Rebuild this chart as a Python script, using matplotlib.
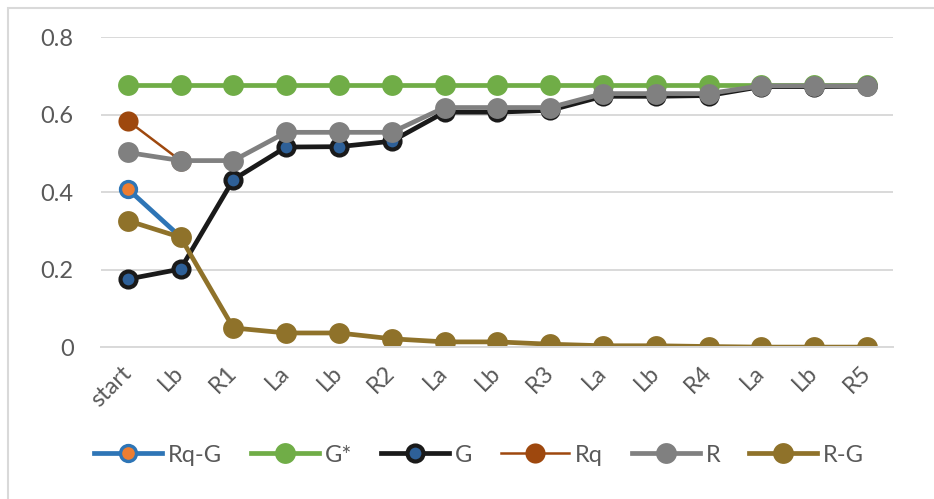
import matplotlib.pyplot as plt
from matplotlib.patches import Rectangle
import numpy as np

plt.rcParams['font.family'] = ['Lato', 'DejaVu Sans']

steps = ["start", "Lb", "R1", "La", "Lb", "R2", "La", "Lb", "R3",
         "La", "Lb", "R4", "La", "Lb", "R5"]

rq_g = [0.409, 0.285]
g_star = [0.676] * 15
g = [0.176, 0.202, 0.433, 0.517, 0.518, 0.532, 0.607, 0.607, 0.612,
     0.648, 0.648, 0.650, 0.673, 0.673, 0.674]
rq = [0.585, 0.482]
r = [0.503, 0.482, 0.482, 0.555, 0.555, 0.555, 0.619, 0.619, 0.619,
     0.655, 0.655, 0.655, 0.675, 0.675, 0.675]
r_g = [0.327, 0.284, 0.050, 0.037, 0.037, 0.022, 0.014, 0.014, 0.008,
       0.004, 0.004, 0.002, 0.0005, 0.0005, 0.0005]

x = np.arange(len(steps))

fig = plt.figure(figsize=(9.34, 4.99), dpi=100)
ax = fig.add_axes([0.1085, 0.304, 0.848, 0.621])

# light frame around the chart area (runs off the right and bottom edges)
fig.patches.append(Rectangle((8 / 934, -0.1), 1.2, 1.1 - 8 / 499,
                             transform=fig.transFigure, fill=False,
                             edgecolor="#D9D9D9", lw=1.5))

ax.plot(x[:len(rq_g)], rq_g, color="#2E75B6", lw=3.4, marker="o", ms=11.5,
        mfc="#ED7D31", mec="#2E75B6", mew=2.4, label="Rq-G")
ax.plot(x, g_star, color="#70AD47", lw=3.4, marker="o", ms=15,
        mfc="#70AD47", mec="#70AD47", mew=0, label="G*")
ax.plot(x, g, color="#1A1A1A", lw=3.4, marker="o", ms=11.5,
        mfc="#2E6098", mec="#1A1A1A", mew=3, label="G")
ax.plot(x[:len(rq)], rq, color="#9E480E", lw=1.8, marker="o", ms=14.5,
        mfc="#9E480E", mec="#9E480E", mew=0, label="Rq")
ax.plot(x, r, color="#808080", lw=3.4, marker="o", ms=15,
        mfc="#808080", mec="#808080", mew=0, label="R")
ax.plot(x, r_g, color="#8F722A", lw=3.4, marker="o", ms=15,
        mfc="#8F722A", mec="#8F722A", mew=0, label="R-G")

ax.set_xlim(-0.5, len(steps) - 0.5)
ax.set_ylim(0, 0.8)
ax.set_yticks([0, 0.2, 0.4, 0.6, 0.8])
ax.set_yticklabels(["0", "0.2", "0.4", "0.6", "0.8"])
ax.set_xticks(x)
ax.set_xticklabels(steps, rotation=45, ha="right", va="center",
                   rotation_mode="anchor")

ax.grid(axis="y", color="#D9D9D9", lw=1.4)
ax.set_axisbelow(True)
for side in ["top", "right", "left"]:
    ax.spines[side].set_visible(False)
ax.spines["bottom"].set_color("#D9D9D9")
ax.spines["bottom"].set_linewidth(1.4)
ax.tick_params(axis="both", length=0, colors="#595959", labelsize=17)
ax.tick_params(axis="y", pad=20)
ax.tick_params(axis="x", pad=16)

fig.legend(loc="center", bbox_to_anchor=(0.513, 0.088), ncol=6, frameon=False,
           fontsize=17, handlelength=2.9, columnspacing=1.2, handletextpad=0.25,
           labelcolor="#595959")

fig.savefig("out.png", dpi=100)
